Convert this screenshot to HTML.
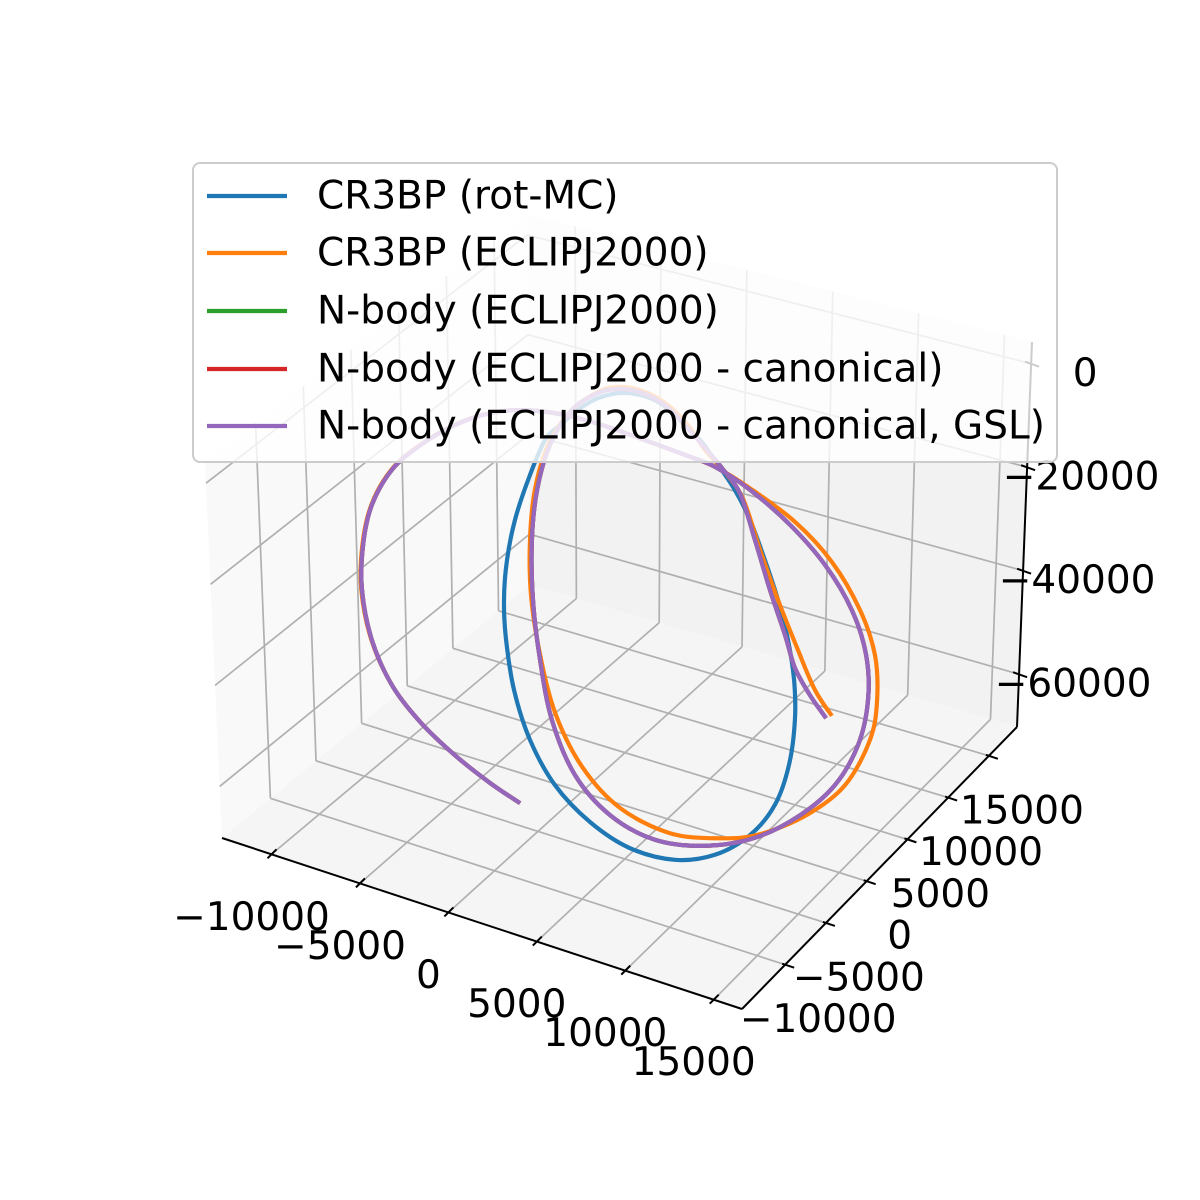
<!DOCTYPE html>
<html><head><meta charset="utf-8"><title>Trajectory 3D</title>
<style>
html,body{margin:0;padding:0;background:#fff;}
svg{display:block;font-family:"DejaVu Sans","Liberation Sans",sans-serif;}
</style></head>
<body>
<svg id="chart" width="1200" height="1200" viewBox="0 0 1200 1200" xmlns="http://www.w3.org/2000/svg">
<g id="panes"></g>
<g id="grid"></g>
<g id="axes"></g>
<g id="series"></g>
<g id="legend"></g>
</svg>
<script>
// ---- axis data ----
const xTicks = [-10000, -5000, 0, 5000, 10000, 15000];
const yTicks = [-10000, -5000, 0, 5000, 10000, 15000];
const zTicks = [0, -20000, -40000, -60000];
const xLim = [-12800, 16600];
const yLim = [-15300, 18450];
const zLim = [-70200, 4200];

// ---- series data (km) ----
const rotX = [-1750,-2710,-3450,-3900,-4070,-3950,-3500,-2600,-1190,790,3050,5590,7850,9830,11240,12030,12370,12320,11980,11410,10680,9830,8980,8020,7010,5880,4750,3620,2490,1240,110,-900];
const rotZ = [-5900,-14700,-23200,-31400,-39300,-46800,-55900,-64500,-71600,-76500,-79000,-78400,-74900,-68900,-61500,-53000,-43900,-36300,-29000,-21900,-15100,-8300,-3500,300,3900,6500,8500,8800,7900,5500,2000,-2100];

const eclX = [-3160,-4860,-6840,-8810,-10400,-11560,-12130,-12070,-11560,-10430,-8830,-6860,-4870,-2880,-620,1640,3900,6160,7850,9830,12370,14460,16050,16890,17010,16610,15200,13050,10400,8140,5310,2490,400,-1130,-2030,-2540,-2600,-2320,-1580,-340,1240,2490,3900,5200,6330,7290,8420,9440,10400,11410,12540,13500,14460];
const eclZ = [-77300,-75300,-72200,-68000,-62700,-55300,-46300,-37600,-29300,-21300,-14800,-8700,-4200,-1400,200,600,400,100,-300,-2200,-5800,-11200,-18700,-26400,-34900,-43000,-53300,-61400,-68100,-71400,-73600,-71900,-66600,-58100,-47500,-36600,-26100,-16100,-6700,1100,6700,9100,9700,8600,6000,2300,-700,-4700,-13400,-21900,-30300,-36900,-40800];

const nbX = [-3160,-4860,-6840,-8810,-10400,-11530,-12090,-12030,-11530,-10400,-8810,-6840,-4860,-2880,-620,1640,3900,6160,7850,9830,12090,14070,15590,16390,16500,15930,14630,12660,10110,7290,4460,1920,-60,-1360,-2030,-2430,-2490,-2200,-1470,-230,1240,2490,3790,5030,6160,7180,8250,9270,10110,10960,11810,12370,13220,14130];
const nbZ = [-77300,-75300,-72200,-68000,-62700,-55300,-46300,-37600,-29300,-21300,-14800,-8700,-4200,-1400,200,600,400,100,-300,-2500,-6700,-12200,-19200,-26900,-35500,-44800,-53900,-61900,-69100,-73800,-75800,-73900,-68400,-59300,-48500,-37400,-25900,-16000,-6500,1600,6500,8700,9300,8400,5800,3000,-100,-3900,-11800,-20500,-28200,-33900,-38200,-41600];

const seriesNames = ["CR3BP (rot-MC)","CR3BP (ECLIPJ2000)","N-body (ECLIPJ2000)","N-body (ECLIPJ2000 - canonical)","N-body (ECLIPJ2000 - canonical, GSL)"];
const seriesColors = ["#1f77b4","#ff7f0e","#2ca02c","#d62728","#9467bd"];

// ---- geometry (box corners in screen px) ----
const A=[222,838], B=[742,1009], C=[1017,727], D=[530,585];
const At=[205,462], Ct=[1032,342], Dt=[527,214];
const NS="http://www.w3.org/2000/svg";
function lerp(p,q,t){return [p[0]+(q[0]-p[0])*t, p[1]+(q[1]-p[1])*t];}
function ux(v){return (v-xLim[0])/(xLim[1]-xLim[0]);}
function uy(v){return (v-yLim[0])/(yLim[1]-yLim[0]);}
function uz(v){return (v-zLim[0])/(zLim[1]-zLim[0]);}
function project(x,y,z){
  const k=x/1000, m=y/1000, n=z/1000;
  return [576+17.7*k+8.15*m, 419.6+5.82*k-8.36*m-5.2*n];
}
function mk(tag,attrs,parent){const e=document.createElementNS(NS,tag);for(const a in attrs)e.setAttribute(a,attrs[a]);parent.appendChild(e);return e;}
function line(p,q,attrs,parent){return mk('line',Object.assign({x1:p[0],y1:p[1],x2:q[0],y2:q[1]},attrs),parent);}
function poly(pts){return pts.map(p=>p[0].toFixed(1)+','+p[1].toFixed(1)).join(' ');}

const panes=document.getElementById('panes');
let e;
e=mk('polygon',{points:poly([A,D,Dt,At]),fill:'#f9f9f9'},panes);


e=mk('polygon',{points:poly([D,C,Ct,Dt]),fill:'#f2f2f2'},panes);


e=mk('polygon',{points:poly([A,B,C,D]),fill:'#f5f5f5'},panes);



const grid=document.getElementById('grid');
const gs={stroke:'#b0b0b0','stroke-width':1.7};
xTicks.forEach(v=>{const u=ux(v);
  e=line(lerp(A,B,u),lerp(D,C,u),gs,grid);
  
  
  e=line(lerp(D,C,u),lerp(Dt,Ct,u),gs,grid);
  
  
});
yTicks.forEach(v=>{const u=uy(v);
  e=line(lerp(A,D,u),lerp(B,C,u),gs,grid);
  
  
  e=line(lerp(A,D,u),lerp(At,Dt,u),gs,grid);
  
  
});
zTicks.forEach(v=>{const h=uz(v);
  const pa=lerp(A,At,h), pd=lerp(D,Dt,h), pc=lerp(C,Ct,h);
  e=line(pa,pd,gs,grid);
  
  
  e=line(pd,pc,gs,grid);
  
  
});

const axes=document.getElementById('axes');
const as={stroke:'#000','stroke-width':2};
e=line(A,B,as,axes);


e=line(B,C,as,axes);


e=line(C,Ct,as,axes);


const ts={stroke:'#000','stroke-width':2};
const txt={'font-size':39,fill:'#000','text-anchor':'middle','dominant-baseline':'central'};
function label(s,p,parent){const t=mk('text',Object.assign({x:p[0].toFixed(1),y:p[1].toFixed(1)},txt),parent);t.textContent=s;return t;}
function fmt(v){return v<0?'\u2212'+Math.abs(v):String(v);}
xTicks.forEach(v=>{const p=lerp(A,B,ux(v));
  e=line([p[0]-4,p[1]+4],[p[0]+5,p[1]-5],ts,axes);
  
  
  e=label(fmt(v),[p[0]-20,p[1]+63],axes);
  
  
});
yTicks.forEach(v=>{const p=lerp(B,C,uy(v));
  e=line([p[0]-3,p[1]-1],[p[0]+9,p[1]+3],ts,axes);
  
  
  e=label(fmt(v),[p[0]+33,p[1]+55],axes);
  
  
});
zTicks.forEach(v=>{const p=lerp(C,Ct,uz(v));
  e=line([p[0]-6,p[1]-2],[p[0]+8,p[1]+3],ts,axes);
  
  
  e=label(fmt(v),[p[0]+54,p[1]+10],axes);
  
  
});

// ---- series ----
function smoothPath(pts,closed){
  const n=pts.length;
  const get=i=>closed?pts[(i+n)%n]:pts[Math.max(0,Math.min(n-1,i))];
  let d='M'+pts[0][0].toFixed(1)+' '+pts[0][1].toFixed(1);
  const segs=closed?n:n-1;
  for(let i=0;i<segs;i++){
    const p0=get(i-1),p1=get(i),p2=get(i+1),p3=get(i+2);
    const c1=[p1[0]+(p2[0]-p0[0])/6,p1[1]+(p2[1]-p0[1])/6];
    const c2=[p2[0]-(p3[0]-p1[0])/6,p2[1]-(p3[1]-p1[1])/6];
    d+=' C'+c1[0].toFixed(1)+' '+c1[1].toFixed(1)+' '+c2[0].toFixed(1)+' '+c2[1].toFixed(1)+' '+p2[0].toFixed(1)+' '+p2[1].toFixed(1);
  }
  return d;
}
const seriesG=document.getElementById('series');
const seriesX=[rotX,eclX,nbX,nbX,nbX];
const seriesZ=[rotZ,eclZ,nbZ,nbZ,nbZ];
const seriesClosed=[true,false,false,false,false];
const seriesKeys=['series-cr3bp-rot-mc','series-cr3bp-eclipj2000','series-nbody-eclipj2000','series-nbody-canonical','series-nbody-canonical-gsl'];
for(let s=0;s<5;s++){
  const pts=seriesX[s].map((x,i)=>project(x,0,seriesZ[s][i]));
  e=mk('path',{d:smoothPath(pts,seriesClosed[s]),fill:'none',stroke:seriesColors[s],'stroke-width':4.2,'stroke-linejoin':'round','stroke-linecap':'butt'},seriesG);
  
  
}

// ---- legend ----
const lg=document.getElementById('legend');
e=mk('rect',{x:193,y:163,width:864,height:299,rx:7,fill:'#ffffff','fill-opacity':0.8,stroke:'#cccccc','stroke-width':2},lg);


const rowY=[196,253,311,369,426];
for(let s=0;s<5;s++){
  e=line([207,rowY[s]],[287,rowY[s]],{stroke:seriesColors[s],'stroke-width':4.2},lg);
  
  
  const t=mk('text',{x:317,y:rowY[s],'font-size':39,fill:'#000','dominant-baseline':'central'},lg);
  t.textContent=seriesNames[s];
  
  
}
</script>
</body></html>
